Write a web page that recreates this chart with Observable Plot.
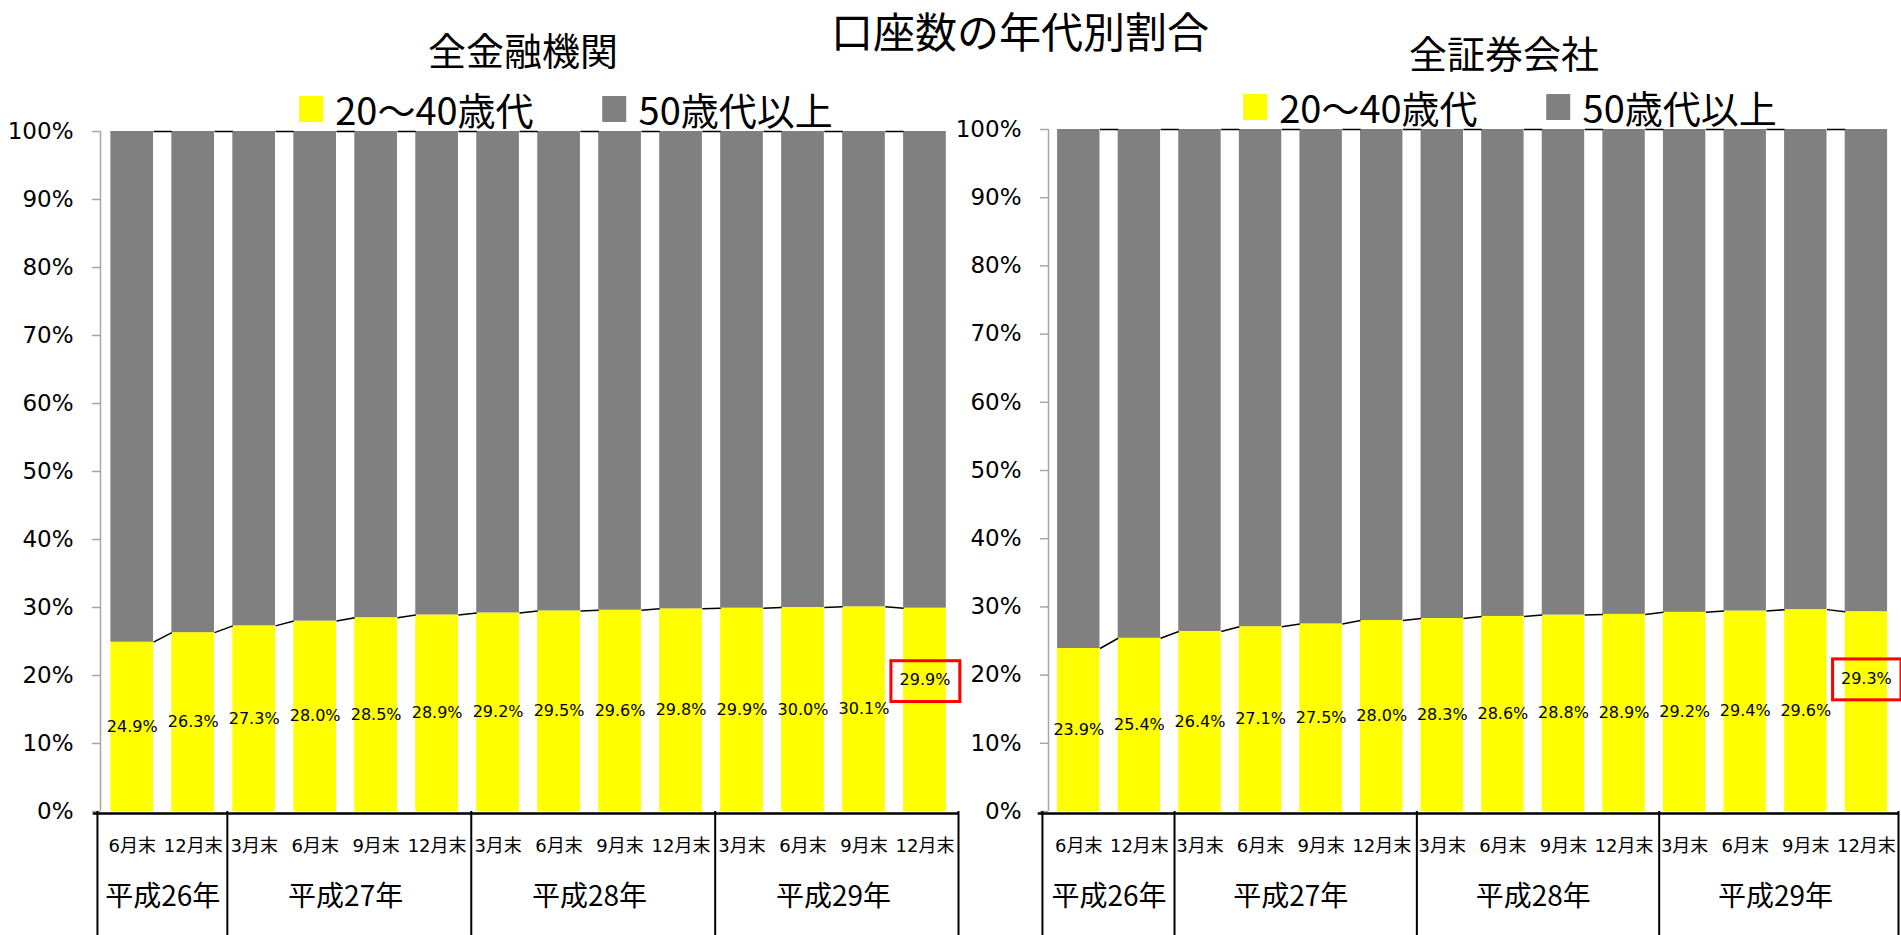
<!DOCTYPE html>
<html>
<head>
<meta charset="utf-8">
<script src="https://cdn.jsdelivr.net/npm/d3@7"></script>
<script src="https://cdn.jsdelivr.net/npm/@observablehq/plot@0.6"></script>
<style>
  html, body { margin: 0; padding: 0; background: #fff; }
  #page { position: relative; width: 1901px; height: 935px; overflow: hidden; background: #fff; }
  .t { position: absolute; font-family: "Noto Sans CJK JP", sans-serif; color: #000; white-space: nowrap; transform: translateX(-50%); }
  .legend { position: absolute; display: flex; align-items: center; transform: translateX(-50%); font-family: "Noto Sans CJK JP", sans-serif; font-size: 38px; line-height: 38px; white-space: nowrap; }
  .legend .sw { width: 24px; height: 26px; margin-right: 12px; }
  .legend .item { display: flex; align-items: center; }
  .legend .item + .item { margin-left: 69px; }
  .chart { position: absolute; top: 120px; }
</style>
</head>
<body>
<div id="page"></div>
<script>
// ---- data ----
const periods = ["6月末","12月末","3月末","6月末","9月末","12月末","3月末","6月末","9月末","12月末","3月末","6月末","9月末","12月末"];
const years = ["平成26年","平成27年","平成28年","平成29年"];
const yearCounts = [2, 4, 4, 4];
const allInstitutions = [24.9, 26.3, 27.3, 28.0, 28.5, 28.9, 29.2, 29.5, 29.6, 29.8, 29.9, 30.0, 30.1, 29.9];
const securities = [23.9, 25.4, 26.4, 27.1, 27.5, 28.0, 28.3, 28.6, 28.8, 28.9, 29.2, 29.4, 29.6, 29.3];
const seriesNames = ["20～40歳代", "50歳代以上"];
const seriesColors = ["#ffff00", "#808080"];
const yTicks = [0, 10, 20, 30, 40, 50, 60, 70, 80, 90, 100];
const mainTitle = "口座数の年代別割合";
const chartTitles = ["全金融機関", "全証券会社"];

const page = document.getElementById("page");

function addText(txt, cls, left, top, size) {
  const d = document.createElement("div");
  d.className = cls;
  d.textContent = txt;
  d.style.left = left + "px";
  d.style.top = top + "px";
  d.style.fontSize = size + "px";
  d.style.lineHeight = size + "px";
  page.appendChild(d);
}
function addLegend(centerX, top) {
  const lg = document.createElement("div");
  lg.className = "legend";
  lg.style.left = centerX + "px";
  lg.style.top = top + "px";
  seriesNames.forEach((n, k) => {
    const it = document.createElement("div");
    it.className = "item";
    const sw = document.createElement("div");
    sw.className = "sw";
    sw.style.background = seriesColors[k];
    const tx = document.createElement("span");
    tx.textContent = n;
    it.appendChild(sw); it.appendChild(tx);
    lg.appendChild(it);
  });
  page.appendChild(lg);
}

function makeChart(values, cfg) {
  const n = values.length;
  const rows = values.map((v, i) => ({i, v, period: periods[i]}));
  const pairs = d3.pairs(rows).map(([a, b]) => ({i: a.i, a: a.v, b: b.v}));
  const cum = d3.cumsum(yearCounts);
  const starts = [0, ...cum.slice(0, -1)];
  const inner = cum.slice(0, -1).map(c => c - 0.5 + cfg.innerShift);
  const bounds = [cfg.boxLeft, ...inner, cfg.xmax];
  const yearRows = years.map((y, k) => ({year: y, x: starts[k] + (yearCounts[k] - 1) / 2}));
  const hw = 0.35;
  const last = rows[n - 1];
  const labelFont = "DejaVu Sans, Verdana, sans-serif";

  return Plot.plot({
    width: cfg.width,
    height: 815,
    marginLeft: cfg.ml,
    marginRight: cfg.mr,
    marginTop: cfg.mt,
    marginBottom: 124,
    x: {domain: [cfg.xmin, cfg.xmax], axis: null},
    y: {domain: [0, 100], axis: null},
    style: {fontFamily: labelFont, fontSize: "23px", color: "#000", background: "transparent", overflow: "visible"},
    marks: [
      Plot.rectY(rows, {x1: d => d.i - hw, x2: d => d.i + hw, y1: 0, y2: "v", fill: seriesColors[0]}),
      Plot.rectY(rows, {x1: d => d.i - hw, x2: d => d.i + hw, y1: "v", y2: 100, fill: seriesColors[1]}),
      Plot.link(pairs, {x1: d => d.i + hw, x2: d => d.i + 1 - hw, y1: "a", y2: "b", stroke: "#000", strokeWidth: 1.5}),
      Plot.link(pairs, {x1: d => d.i + hw, x2: d => d.i + 1 - hw, y1: 100, y2: 100, stroke: "#000", strokeWidth: 1.5}),
      Plot.ruleX([cfg.xmin], {y1: 0, y2: 100, stroke: "#a6a6a6", strokeWidth: 1.5}),
      Plot.axisY({ticks: yTicks, tickFormat: d => d + "%", tickSize: 8, tickPadding: 19, stroke: "#a6a6a6", fill: "#000", fontSize: 23, label: null, strokeWidth: 1.5}),
      Plot.text(rows.slice(0, n - 1), {x: "i", y: d => d.v / 2, text: d => d.v.toFixed(1) + "%", fontSize: 16, fill: "#000"}),
      Plot.text([last], {x: "i", y: cfg.hlY, text: d => d.v.toFixed(1) + "%", fontSize: 16, fill: "#000"}),
      Plot.rect([last], {x1: d => d.i - 0.55, x2: d => d.i + 0.58, y1: cfg.hlY - 3.2, y2: cfg.hlY + 2.8, fill: "none", stroke: "#ff0000", strokeWidth: 3}),
      Plot.ruleY([0], {x1: cfg.boxLeft - 0.07, x2: cfg.xmax, stroke: "#000", strokeWidth: 2.5, dy: 2}),
      Plot.ruleX(bounds, {y1: 0, y2: -25, stroke: "#000", strokeWidth: 2}),
      Plot.text(rows, {x: "i", y: 0, dy: 35, text: "period", fontSize: 18, fontFamily: "DejaVu Sans, Noto Sans CJK JP, sans-serif", fill: "#000"}),
      Plot.text(yearRows, {x: "x", y: 0, dy: 86, text: "year", fontSize: 28, fontFamily: "Noto Sans CJK JP, sans-serif", fill: "#000"})
    ]
  });
}

addText(mainTitle, "t", 1020, 9, 42);
addText(chartTitles[0], "t", 523, 30, 38);
addText(chartTitles[1], "t", 1504, 33, 38);
addLegend(566, 90);
addLegend(1510, 88);

const c1 = makeChart(allInstitutions, {width: 960, ml: 100, mr: 2, mt: 11, xmin: -0.52, xmax: 13.55, boxLeft: -0.57, innerShift: 0.06, hlY: 19.3});
c1.classList.add("chart");
c1.style.left = "0px";
page.appendChild(c1);

const c2 = makeChart(securities, {width: 961, ml: 108, mr: 3, mt: 9, xmin: -0.5, xmax: 13.53, boxLeft: -0.6, innerShift: 0.08, hlY: 19.5});
c2.classList.add("chart");
c2.style.left = "940px";
page.appendChild(c2);
</script>
</body>
</html>
